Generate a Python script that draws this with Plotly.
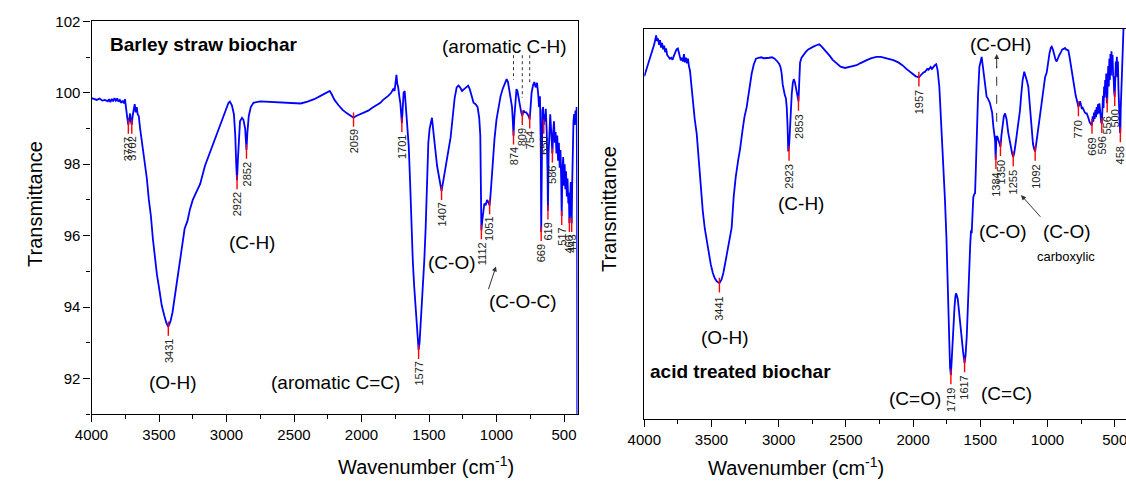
import plotly.graph_objects as go

FONT = "Arial, 'Liberation Sans', sans-serif"

# ---------------- Left panel: Barley straw biochar ----------------
left_wn = [4000, 3980, 3960, 3940, 3920, 3900, 3880, 3870, 3860, 3850, 3840, 3830, 3820, 3810,
           3800, 3790, 3780, 3770, 3760, 3752, 3745, 3735, 3727, 3720, 3714, 3708, 3702, 3695,
           3688, 3680, 3672, 3665, 3658, 3650, 3640, 3630, 3620, 3610, 3600, 3590, 3575, 3560,
           3545, 3530, 3515, 3500, 3480, 3460, 3445, 3431, 3415, 3400, 3385, 3368, 3350, 3330,
           3310, 3290, 3270, 3250, 3220, 3195, 3160, 3120, 3080, 3050, 3020, 3000, 2985, 2975,
           2960, 2945, 2935, 2928, 2922, 2916, 2908, 2900, 2885, 2875, 2862, 2852, 2845, 2835,
           2820, 2800, 2750, 2700, 2650, 2600, 2550, 2500, 2450, 2400, 2350, 2300, 2250, 2235,
           2220, 2200, 2170, 2140, 2110, 2080, 2059, 2040, 2010, 1980, 1950, 1920, 1890, 1860,
           1840, 1820, 1800, 1780, 1765, 1755, 1748, 1741, 1735, 1728, 1720, 1712, 1701, 1695,
           1688, 1680, 1672, 1662, 1650, 1640, 1630, 1620, 1610, 1600, 1590, 1580, 1577, 1570,
           1562, 1555, 1545, 1535, 1525, 1515, 1505, 1495, 1485, 1478, 1470, 1462, 1450, 1440,
           1425, 1415, 1407, 1398, 1385, 1370, 1355, 1340, 1325, 1310, 1295, 1282, 1270, 1255,
           1240, 1225, 1210, 1198, 1185, 1170, 1155, 1140, 1128, 1120, 1116, 1112, 1106, 1098,
           1090, 1080, 1070, 1062, 1051, 1043, 1035, 1025, 1015, 1000, 985, 970, 955, 940,
           925, 915, 905, 895, 885, 879, 874, 868, 860, 852, 845, 835, 825, 817,
           809, 800, 790, 780, 770, 762, 754, 748, 740, 730, 720, 710, 700, 692,
           685, 678, 672, 669, 665, 660, 655, 650, 645, 640, 635, 628, 622, 619,
           614, 608, 602, 596, 590, 586, 580, 574, 568, 562, 556, 550, 544, 538,
           532, 526, 521, 517, 512, 506, 500, 495, 490, 485, 479, 474, 468, 464,
           460, 455, 450, 446, 443, 439, 435, 430, 425, 420, 415, 410, 406, 403, 401]
left_T = [99.85, 99.83, 99.80, 99.84, 99.78, 99.80, 99.76, 99.82, 99.74, 99.83, 99.76, 99.85, 99.78, 99.84,
          99.75, 99.80, 99.72, 99.78, 99.70, 99.82, 99.55, 99.30, 99.10, 99.35, 99.42, 99.20, 99.10, 99.35,
          99.50, 99.68, 99.45, 99.60, 99.40, 99.35, 99.00, 98.70, 98.45, 98.20, 97.95, 97.60, 97.00, 96.55,
          95.90, 95.30, 94.90, 94.55, 94.05, 93.75, 93.55, 93.45, 93.60, 93.85, 94.25, 94.70, 95.25, 95.80,
          96.20, 96.40, 96.75, 97.00, 97.25, 97.45, 97.95, 98.35, 98.75, 99.10, 99.40, 99.60, 99.72, 99.75,
          99.65, 99.40, 98.80, 98.00, 97.55, 98.10, 98.90, 99.20, 99.30, 99.25, 99.00, 98.40, 98.90, 99.35,
          99.60, 99.72, 99.76, 99.75, 99.74, 99.73, 99.72, 99.70, 99.70, 99.75, 99.82, 99.92, 100.02, 100.05,
          99.95, 99.80, 99.65, 99.52, 99.43, 99.35, 99.30, 99.35, 99.40, 99.45, 99.50, 99.58, 99.65, 99.72,
          99.80, 99.85, 99.92, 100.00, 100.10, 100.05, 100.30, 100.50, 100.25, 100.15, 99.90, 99.70, 99.15, 99.50,
          100.00, 100.05, 99.60, 99.00, 98.50, 97.50, 96.20, 95.30, 94.60, 94.00, 93.40, 92.95, 92.80, 93.00,
          93.50, 93.90, 94.50, 95.30, 96.20, 97.50, 98.60, 99.00, 99.20, 99.30, 99.00, 98.65, 98.30, 97.95,
          97.60, 97.40, 97.25, 97.45, 97.75, 98.15, 98.50, 98.75, 99.30, 99.85, 100.15, 100.20, 100.15, 100.05,
          100.10, 100.15, 100.20, 100.10, 99.90, 99.72, 99.68, 99.60, 99.30, 98.80, 97.50, 96.15, 96.40, 96.70,
          96.90, 96.85, 97.00, 96.95, 96.85, 97.20, 97.70, 98.20, 98.70, 99.25, 99.65, 99.90, 100.10, 100.25,
          100.38, 100.30, 100.10, 99.90, 99.60, 99.20, 98.80, 99.30, 99.90, 100.10, 100.05, 99.80, 99.62, 99.45,
          99.35, 99.50, 99.45, 99.45, 99.40, 99.35, 99.25, 99.60, 100.00, 100.20, 100.30, 100.15, 100.28, 100.00,
          99.60, 99.90, 98.50, 96.10, 98.80, 99.50, 99.60, 99.10, 99.40, 99.20, 99.55, 98.90, 97.80, 96.70,
          98.30, 99.00, 99.40, 99.00, 98.60, 98.30, 98.90, 99.20, 98.60, 98.90, 98.30, 98.80, 98.10, 98.60,
          97.90, 98.40, 97.60, 96.55, 97.80, 98.20, 97.40, 98.00, 97.30, 97.80, 97.10, 97.60, 96.90, 97.20,
          96.35, 97.00, 97.50, 96.80, 96.35, 97.50, 98.60, 99.20, 99.40, 99.10, 99.50, 99.30, 99.60, 97.00, 88.00]

left_peak_wn = [3727, 3702, 3431, 2922, 2852, 2059, 1701, 1577, 1407, 1112, 1051,
                874, 809, 754, 669, 650, 619, 586, 517, 460, 443]
left_peak_T = [99.10, 99.10, 93.45, 97.55, 98.40, 99.30, 99.15, 92.80, 97.25, 96.15, 96.85,
               98.80, 99.35, 99.25, 96.10, 99.10, 96.70, 98.30, 96.55, 96.35, 96.35]

# ---------------- Right panel: acid treated biochar ----------------
right_wn = [4000, 3985, 3970, 3955, 3940, 3925, 3912, 3905, 3898, 3890, 3883, 3876, 3868, 3860,
            3852, 3845, 3838, 3830, 3820, 3810, 3800, 3790, 3780, 3770, 3760, 3750, 3742, 3735,
            3728, 3720, 3712, 3705, 3698, 3690, 3682, 3675, 3668, 3660, 3650, 3640, 3625, 3610,
            3595, 3580, 3565, 3550, 3535, 3520, 3505, 3490, 3475, 3460, 3441, 3425, 3412, 3395,
            3380, 3365, 3350, 3335, 3320, 3300, 3288, 3270, 3255, 3238, 3220, 3201, 3185, 3169,
            3150, 3130, 3110, 3090, 3070, 3050, 3030, 3010, 2995, 2985, 2978, 2970, 2962, 2955,
            2946, 2940, 2934, 2929, 2922, 2916, 2911, 2903, 2895, 2888, 2880, 2872, 2864, 2858,
            2853, 2847, 2841, 2830, 2817, 2800, 2780, 2760, 2742, 2720, 2698, 2680, 2660, 2643,
            2620, 2600, 2568, 2540, 2507, 2480, 2450, 2420, 2395, 2370, 2345, 2310, 2271, 2240,
            2210, 2180, 2147, 2110, 2080, 2050, 2023, 2000, 1980, 1957, 1940, 1925, 1911, 1895,
            1885, 1870, 1860, 1850, 1838, 1828, 1818, 1810, 1805, 1797, 1787, 1775, 1763, 1752,
            1746, 1738, 1730, 1725, 1719, 1712, 1705, 1700, 1692, 1685, 1681, 1675, 1668, 1660,
            1650, 1638, 1628, 1617, 1610, 1601, 1595, 1588, 1582, 1575, 1569, 1564, 1558, 1552,
            1545, 1539, 1533, 1527, 1517, 1507, 1498, 1490, 1483, 1473, 1463, 1453, 1443, 1433,
            1428, 1420, 1412, 1403, 1395, 1390, 1386, 1380, 1373, 1365, 1358, 1350, 1343, 1335,
            1325, 1316, 1305, 1292, 1280, 1270, 1262, 1255, 1248, 1238, 1228, 1217, 1205, 1195,
            1185, 1173, 1163, 1153, 1143, 1135, 1125, 1118, 1108, 1100, 1092, 1085, 1075, 1065,
            1056, 1045, 1030, 1018, 1006, 995, 985, 975, 969, 960, 950, 940, 932, 922,
            912, 900, 890, 880, 870, 862, 853, 845, 835, 825, 815, 808, 800, 790,
            783, 778, 774, 770, 765, 758, 752, 745, 738, 730, 722, 715, 708, 700,
            692, 685, 678, 672, 669, 664, 659, 654, 649, 644, 639, 634, 629, 624,
            619, 614, 609, 604, 600, 596, 592, 587, 583, 579, 575, 571, 567, 563,
            559, 556, 552, 548, 544, 540, 536, 532, 528, 524, 520, 516, 512, 508,
            504, 500, 496, 492, 488, 484, 480, 476, 472, 468, 464, 460, 458, 455,
            450, 446, 442, 438, 434, 430, 420]
right_T = [96.9, 97.6, 98.3, 98.8, 99.6, 100.4, 101.3, 100.7, 101.0, 100.3, 100.8, 100.0, 100.5, 99.8,
           100.2, 99.5, 99.9, 99.2, 99.0, 98.8, 98.9, 98.7, 99.1, 99.4, 99.8, 99.9, 99.2, 99.0,
           98.6, 98.9, 98.5, 99.3, 98.4, 98.9, 98.3, 98.8, 98.0, 97.5, 96.0, 94.2, 92.3, 90.7,
           88.0, 84.8, 82.4, 80.5, 79.2, 77.7, 76.6, 75.7, 75.1, 74.8, 74.6, 75.0, 75.7, 77.0,
           78.2, 79.6, 80.6, 83.9, 86.0, 88.0, 89.0, 91.0, 92.5, 93.6, 95.4, 97.2, 98.2, 98.8,
           98.9, 98.95, 98.85, 98.85, 98.9, 98.95, 98.8, 98.5, 98.2, 97.8, 97.2, 96.0, 95.3, 94.9,
           94.5, 93.5, 91.5, 88.8, 89.5, 91.8, 93.3, 95.0, 96.2, 96.6, 96.3, 95.8, 95.2, 94.6,
           94.2, 96.0, 98.4, 98.9, 99.2, 99.5, 99.8, 100.0, 100.1, 100.25, 100.35, 100.1, 99.8, 99.55,
           99.1, 98.7, 98.3, 97.95, 97.8, 97.9, 98.0, 98.1, 98.3, 98.5, 98.65, 98.85, 99.0, 99.0,
           98.9, 98.8, 98.65, 98.4, 98.1, 97.7, 97.4, 97.1, 96.9, 96.8, 97.1, 97.3, 97.4, 97.7,
           97.6, 97.9, 97.7, 97.95, 98.1, 98.2, 97.6, 96.5, 95.8, 93.5, 90.8, 87.0, 83.6, 79.5,
           77.0, 73.2, 68.0, 65.5, 64.7, 66.5, 68.8, 70.0, 72.0, 73.2, 73.5, 73.3, 72.9, 71.8,
           70.2, 68.8, 67.2, 66.0, 66.8, 68.8, 71.5, 74.0, 76.8, 78.8, 80.3, 80.0, 82.0, 83.9,
           84.2, 84.3, 87.0, 90.8, 94.8, 97.9, 98.7, 99.0, 98.2, 96.9, 95.5, 94.7, 94.5, 94.2,
           94.0, 93.5, 93.0, 91.5, 90.3, 90.0, 87.9, 90.4, 90.4, 90.0, 89.6, 89.3, 90.5, 91.8,
           92.6, 92.9, 92.3, 90.8, 89.8, 89.0, 88.5, 88.2, 88.6, 89.6, 90.6, 91.5, 93.2, 95.0,
           96.5, 97.4, 97.0, 96.4, 95.8, 94.2, 92.0, 90.8, 89.6, 89.1, 88.8, 89.5, 90.6, 91.7,
           92.6, 94.0, 95.8, 96.8, 97.3, 98.5, 99.4, 100.0, 100.1, 99.8, 99.2, 98.7, 98.5, 98.9,
           99.2, 99.5, 99.8, 99.85, 99.95, 99.8, 99.7, 99.7, 98.9, 97.9, 97.0, 96.5, 95.6, 94.8,
           94.4, 93.9, 93.6, 93.6, 93.8, 94.2, 93.9, 93.4, 93.5, 93.2, 93.0, 92.9, 92.9, 92.6,
           92.2, 91.9, 91.8, 91.6, 91.7, 92.6, 92.0, 93.0, 92.3, 93.3, 92.5, 93.6, 92.8, 93.9,
           92.9, 94.0, 93.0, 92.3, 91.9, 91.8, 93.0, 94.8, 93.5, 95.8, 94.6, 96.5, 95.0, 97.2,
           94.2, 94.0, 96.5, 98.0, 95.8, 98.8, 96.5, 99.3, 97.0, 99.6, 98.3, 99.2, 97.0, 96.8,
           95.2, 94.7, 96.5, 98.5, 97.0, 99.0, 96.8, 98.5, 95.5, 94.0, 91.5, 90.8, 90.9, 93.5,
           96.0, 98.0, 100.5, 102.5, 103.0, 104.0, 104.0]

right_peak_wn = [3441, 2923, 2853, 1957, 1719, 1617, 1384, 1350, 1255, 1092,
                 770, 669, 596, 556, 500, 458]
right_peak_T = [74.6, 88.8, 94.2, 96.8, 64.7, 66.0, 87.9, 89.3, 88.2, 88.8,
                93.6, 91.7, 91.8, 94.0, 94.7, 90.8]

x_ticks = [4000, 3500, 3000, 2500, 2000, 1500, 1000, 500]
left_y_ticks = [92, 94, 96, 98, 100, 102]


def tick_segments(wns, ts, up, down):
    xs, ys = [], []
    for w, t in zip(wns, ts):
        xs += [w, w, None]
        ys += [t + up, t - down, None]
    return xs, ys


fig = go.Figure()
fig.add_trace(go.Scatter(x=left_wn, y=left_T, mode="lines", xaxis="x", yaxis="y",
                         line=dict(color="#0000ff", width=1.8), showlegend=False, hoverinfo="skip"))
lx, ly = tick_segments(left_peak_wn, left_peak_T, 0.15, 0.25)
fig.add_trace(go.Scatter(x=lx, y=ly, mode="lines", xaxis="x", yaxis="y",
                         line=dict(color="#ff0000", width=1.4), showlegend=False, hoverinfo="skip"))

fig.add_trace(go.Scatter(x=right_wn, y=right_T, mode="lines", xaxis="x2", yaxis="y2",
                         line=dict(color="#0000ff", width=1.8), showlegend=False, hoverinfo="skip"))
rx, ry = tick_segments(right_peak_wn, right_peak_T, 0.6, 1.0)
fig.add_trace(go.Scatter(x=rx, y=ry, mode="lines", xaxis="x2", yaxis="y2",
                         line=dict(color="#ff0000", width=1.4), showlegend=False, hoverinfo="skip"))

ann = []
# peak number labels
for w, t in zip(left_peak_wn, left_peak_T):
    ann.append(dict(x=w, y=t - 0.28, xref="x", yref="y", text=str(w), textangle=-90,
                    showarrow=False, xanchor="center", yanchor="top",
                    font=dict(size=11, color="#222222", family=FONT)))
for w, t in zip(right_peak_wn, right_peak_T):
    ann.append(dict(x=w, y=t - 1.2, xref="x2", yref="y2", text=str(w), textangle=-90,
                    showarrow=False, xanchor="center", yanchor="top",
                    font=dict(size=11, color="#222222", family=FONT)))

big = dict(size=19, color="black", family=FONT)
# left panel group labels
ann += [
    dict(x=3878, y=101.34, xref="x", yref="y", text="<b>Barley straw biochar</b>", showarrow=False,
         xanchor="left", yanchor="middle", font=dict(size=19, color="black", family=FONT)),
    dict(x=2811, y=95.8, xref="x", yref="y", text="(C-H)", showarrow=False, font=big),
    dict(x=3400, y=91.9, xref="x", yref="y", text="(O-H)", showarrow=False, font=big),
    dict(x=2189, y=91.9, xref="x", yref="y", text="(aromatic C=C)", showarrow=False, font=big),
    dict(x=1337, y=95.25, xref="x", yref="y", text="(C-O)", showarrow=False, font=big),
    dict(x=807, y=94.15, xref="x", yref="y", text="(C-O-C)", showarrow=False, font=big),
    dict(x=944, y=101.29, xref="x", yref="y", text="(aromatic C-H)", showarrow=False, font=big),
    dict(x=1004, y=95.14, ax=1063, ay=94.46, xref="x", yref="y", axref="x", ayref="y", text="",
         showarrow=True, arrowhead=2, arrowsize=1, arrowwidth=1, arrowcolor="#333333"),
]
# right panel group labels
ann += [
    dict(x=2834, y=83.2, xref="x2", yref="y2", text="(C-H)", showarrow=False, font=big),
    dict(x=3407, y=68.7, xref="x2", yref="y2", text="(O-H)", showarrow=False, font=big),
    dict(x=3975, y=65.1, xref="x2", yref="y2", text="<b>acid treated biochar</b>", showarrow=False,
         xanchor="left", yanchor="middle", font=dict(size=19, color="black", family=FONT)),
    dict(x=1989, y=62.2, xref="x2", yref="y2", text="(C=O)", showarrow=False, font=big),
    dict(x=1307, y=62.75, xref="x2", yref="y2", text="(C=C)", showarrow=False, font=big),
    dict(x=1335, y=80.2, xref="x2", yref="y2", text="(C-O)", showarrow=False, font=big),
    dict(x=860, y=80.2, xref="x2", yref="y2", text="(C-O)", showarrow=False, font=big),
    dict(x=860, y=77.5, xref="x2", yref="y2", text="carboxylic", showarrow=False,
         font=dict(size=13, color="black", family=FONT)),
    dict(x=1347, y=100.3, xref="x2", yref="y2", text="(C-OH)", showarrow=False, font=big),
    dict(x=1378, y=99.3, ax=1378, ay=97.6, xref="x2", yref="y2", axref="x2", ayref="y2", text="",
         showarrow=True, arrowhead=2, arrowsize=1, arrowwidth=1, arrowcolor="#333333"),
    dict(x=1197, y=84.1, ax=1043, ay=81.6, xref="x2", yref="y2", axref="x2", ayref="y2", text="",
         showarrow=True, arrowhead=2, arrowsize=1, arrowwidth=1, arrowcolor="#333333"),
]
# axis titles
title_font = dict(size=20, color="black", family=FONT)
ann += [
    dict(x=22 / 1126, y=1 - 204 / 482, xref="paper", yref="paper", text="Transmittance",
         textangle=-90, showarrow=False, font=title_font),
    dict(x=609 / 1126, y=1 - 209 / 482, xref="paper", yref="paper", text="Transmittance",
         textangle=-90, showarrow=False, font=title_font),
    dict(x=336 / 1126, y=2 / 482, xref="paper", yref="paper", yanchor="bottom",
         text="Wavenumber (cm<sup>-1</sup>)", showarrow=False, font=title_font),
    dict(x=886 / 1126, y=1 / 482, xref="paper", yref="paper", yanchor="bottom",
         text="Wavenumber (cm<sup>-1</sup>)", showarrow=False, font=title_font),
]

shapes = []
# dotted guide lines for aromatic C-H
for w, yb in zip([874, 809, 754], [100.36, 99.86, 100.22]):
    shapes.append(dict(type="line", xref="x", yref="y", x0=w, x1=w, y0=101.05, y1=yb,
                       line=dict(color="#333333", width=1, dash="dot")))
# dashed line for C-OH arrow
shapes.append(dict(type="line", xref="x2", yref="y2", x0=1378, x1=1378, y0=92.0, y1=98.0,
                   line=dict(color="#333333", width=1, dash="dash")))

axis_common = dict(showgrid=False, zeroline=False, showline=True, linecolor="black", linewidth=1.3,
                   tickfont=dict(size=15, color="black", family=FONT), ticks="outside",
                   tickcolor="black", tickwidth=1.2, ticklen=7, automargin=False,
                   ticklabeloverflow="allow")

fig.update_layout(
    width=1126, height=482, margin=dict(l=0, r=0, t=0, b=0, autoexpand=False),
    paper_bgcolor="white", plot_bgcolor="white",
    font=dict(family=FONT),
    xaxis=dict(domain=[91.5 / 1126, 577.5 / 1126], range=[4000, 400], anchor="y",
               tickvals=x_ticks, mirror=True,
               minor=dict(dtick=250, tick0=0, ticks="outside", ticklen=4, tickcolor="black",
                          tickwidth=1, showgrid=False), **axis_common),
    yaxis=dict(domain=[1 - 414.3 / 482, 1 - 21.3 / 482], range=[91, 102], anchor="x",
               tickvals=left_y_ticks, mirror=True,
               minor=dict(dtick=1, tick0=0, ticks="outside", ticklen=4, tickcolor="black",
                          tickwidth=1, showgrid=False), **axis_common),
    xaxis2=dict(domain=[644.3 / 1126, 1.0], range=[4000, 416], anchor="y2",
                tickvals=x_ticks, mirror=True,
                minor=dict(dtick=250, tick0=0, ticks="outside", ticklen=4, tickcolor="black",
                           tickwidth=1, showgrid=False), **axis_common),
    yaxis2=dict(domain=[1 - 418.7 / 482, 1 - 29 / 482], range=[60, 102], anchor="x2",
                showgrid=False, zeroline=False, showline=True, linecolor="black", linewidth=1.3,
                ticks="", showticklabels=False, mirror=False, automargin=False),
    annotations=ann, shapes=shapes,
)

fig.write_html("out.html")
